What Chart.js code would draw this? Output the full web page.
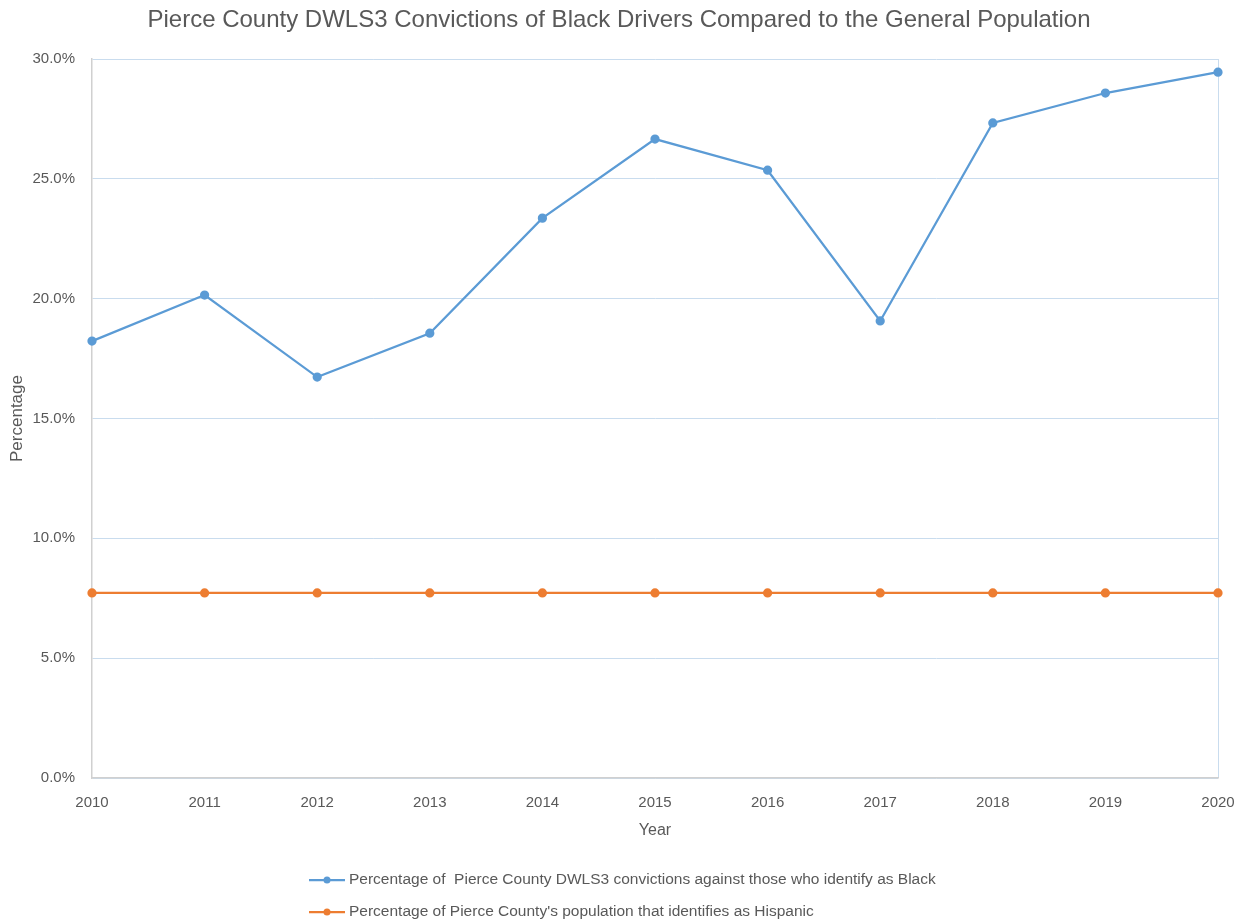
<!DOCTYPE html>
<html>
<head>
<meta charset="utf-8">
<script src="https://cdn.jsdelivr.net/npm/chart.js@4"></script>
<style>
html,body{margin:0;padding:0;background:#fff;}
#wrap{width:1245px;height:922px;position:relative;}
</style>
</head>
<body>
<div id="wrap"><canvas id="c" width="1245" height="922"></canvas></div>
<script>
const years = ['2010','2011','2012','2013','2014','2015','2016','2017','2018','2019','2020'];
const blackConvictions = [18.23, 20.15, 16.73, 18.56, 23.36, 26.66, 25.36, 19.07, 27.33, 28.58, 29.45];
const hispanicPopulation = [7.72, 7.72, 7.72, 7.72, 7.72, 7.72, 7.72, 7.72, 7.72, 7.72, 7.72];
const seriesNames = [
  'Percentage of  Pierce County DWLS3 convictions against those who identify as Black',
  "Percentage of Pierce County's population that identifies as Hispanic"
];
const titleText = 'Pierce County DWLS3 Convictions of Black Drivers Compared to the General Population';

const FONT = "'Liberation Sans', Arial, sans-serif";
const TXT = '#595959';
const BLUE = '#5b9bd5';
const ORANGE = '#ed7d31';

const titleLegendPlugin = {
  id: 'titleLegend',
  afterDraw(chart) {
    const ctx = chart.ctx;
    ctx.save();
    ctx.fillStyle = TXT;
    ctx.font = '24px ' + FONT;
    ctx.textAlign = 'center';
    ctx.textBaseline = 'middle';
    ctx.fillText(titleText, 619, 20);
    ctx.restore();

    const rows = [880, 912];
    chart.data.datasets.forEach((ds, i) => {
      const y = rows[i];
      ctx.save();
      ctx.strokeStyle = ds.borderColor;
      ctx.lineWidth = 2.25;
      ctx.beginPath();
      ctx.moveTo(309, y); ctx.lineTo(345, y);
      ctx.stroke();
      ctx.fillStyle = ds.borderColor;
      ctx.beginPath();
      ctx.arc(327, y, 3.5, 0, Math.PI * 2);
      ctx.fill();
      ctx.fillStyle = TXT;
      ctx.font = '15.5px ' + FONT;
      ctx.textBaseline = 'middle';
      ctx.textAlign = 'left';
      ctx.fillText(ds.label, 349, y);
      ctx.restore();
    });
  }
};

new Chart(document.getElementById('c'), {
  type: 'line',
  data: {
    labels: years,
    datasets: [
      { label: seriesNames[0], data: blackConvictions, borderColor: BLUE, backgroundColor: BLUE,
        borderWidth: 2.25, pointRadius: 3.5, pointHoverRadius: 3.5, tension: 0, clip: false },
      { label: seriesNames[1], data: hispanicPopulation, borderColor: ORANGE, backgroundColor: ORANGE,
        borderWidth: 2.25, pointRadius: 3.5, pointHoverRadius: 3.5, tension: 0, clip: false }
    ]
  },
  options: {
    responsive: false,
    animation: false,
    events: [],
    layout: { padding: { top: 59, left: 0, right: 27, bottom: 82 } },
    plugins: {
      legend: { display: false },
      tooltip: { enabled: false },
      title: { display: false }
    },
    scales: {
      x: {
        type: 'category',
        offset: false,
        afterFit(s) { s.height = 62; s.paddingLeft = 0; s.paddingRight = 0; },
        grid: {
          drawTicks: false,
          color: c => (c.index === years.length - 1 ? '#c9dcee' : 'rgba(0,0,0,0)'),
          lineWidth: 1
        },
        border: { color: '#d0d0d0', width: 1.5 },
        ticks: { color: TXT, font: { family: FONT, size: 15 }, padding: 16, maxRotation: 0, autoSkip: false },
        title: { display: true, text: 'Year', color: TXT, font: { family: FONT, size: 16 }, padding: { top: 8, bottom: 0 } }
      },
      y: {
        min: 0, max: 30,
        afterFit(s) { s.width = 92; s.paddingTop = 0; s.paddingBottom = 0; },
        ticks: { stepSize: 5, color: TXT, font: { family: FONT, size: 15 }, padding: 17,
          callback: v => v.toFixed(1) + '%' },
        grid: { color: '#c9dcee', lineWidth: 1, drawTicks: false },
        border: { color: '#d0d0d0', width: 1.5 },
        title: { display: true, text: 'Percentage', color: TXT, font: { family: FONT, size: 17 }, padding: { top: 7, bottom: 0 } }
      }
    }
  },
  plugins: [titleLegendPlugin]
});
</script>
</body>
</html>
